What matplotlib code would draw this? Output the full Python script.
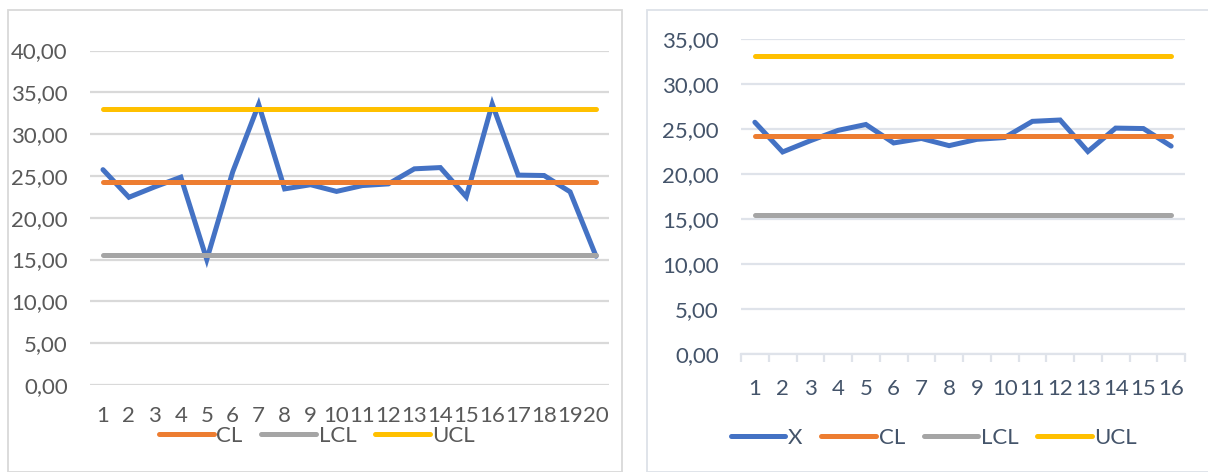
"""Two X control charts side by side: all samples, and with the out-of-limit samples dropped."""
import matplotlib
matplotlib.use("Agg")
import matplotlib.pyplot as plt
from matplotlib.lines import Line2D
from matplotlib.patches import Rectangle
from matplotlib.ticker import FuncFormatter, MultipleLocator

plt.rcParams['font.family'] = ['Lato', 'DejaVu Sans']

# sample means, all 20 subgroups
samples_all = list(range(1, 21))
x_all = [25.75, 22.45, 23.7, 24.85, 15.0, 25.5, 33.55, 23.45, 23.95, 23.15,
         23.85, 24.05, 25.85, 26.0, 22.5, 33.6, 25.1, 25.05, 23.1, 15.4]
cl_all, lcl_all, ucl_all = 24.27, 15.5, 33.0

# after removing subgroups 5, 7, 16 and 20
samples_red = list(range(1, 17))
x_red = [25.75, 22.45, 23.7, 24.85, 25.5, 23.45, 23.95, 23.15,
         23.85, 24.05, 25.85, 26.0, 22.5, 25.1, 25.05, 23.1]
cl_red, lcl_red, ucl_red = 24.25, 15.4, 33.1

BLUE = '#4472C4'
ORANGE = '#ED7D31'
GRAY = '#A5A5A5'
YELLOW = '#FFC000'
LW = 3.6
FS = 16

W, H = 1208, 472
fig = plt.figure(figsize=(W / 100, H / 100), dpi=100)


def px(x0, y0, x1, y1):
    # pixel box (top-left origin) -> figure fraction rect
    return [x0 / W, 1 - y1 / H, (x1 - x0) / W, (y1 - y0) / H]


def comma_fmt(v, pos):
    return ('%.2f' % v).replace('.', ',')


def draw_chart(ax, cats, xs, cl, lcl, ucl, ymax, grid_c, text_c):
    n = len(cats)
    ax.plot(cats, xs, color=BLUE, lw=LW, solid_capstyle='round',
            solid_joinstyle='miter', zorder=3)
    for val, c in ((cl, ORANGE), (lcl, GRAY), (ucl, YELLOW)):
        ax.plot(cats, [val] * n, color=c, lw=LW, solid_capstyle='round',
                zorder=4)
    ax.set_xlim(0.5, n + 0.5)
    ax.set_ylim(0, ymax)
    ax.yaxis.set_major_locator(MultipleLocator(5))
    ax.yaxis.set_major_formatter(FuncFormatter(comma_fmt))
    ax.set_xticks(cats)
    ax.grid(axis='y', color=grid_c, lw=1.6, zorder=0)
    ax.set_axisbelow(True)
    for s in ax.spines.values():
        s.set_visible(False)
    ax.tick_params(axis='y', length=0, pad=16, labelsize=FS,
                   labelcolor=text_c)
    ax.tick_params(axis='x', length=0, pad=15, labelsize=FS,
                   labelcolor=text_c)


# panel frames
fig.add_artist(Rectangle((8 / W, 0), (622 - 8) / W, 1 - 10 / H,
                         transform=fig.transFigure, fill=False,
                         ec='#D9D9D9', lw=1.3))
fig.add_artist(Rectangle((647 / W, 0), (1220 - 647) / W, 1 - 10 / H,
                         transform=fig.transFigure, fill=False,
                         ec='#DDE2E8', lw=1.3))

# left chart
ax1 = fig.add_axes(px(90, 50.5, 609, 385))
draw_chart(ax1, samples_all, x_all, cl_all, lcl_all, ucl_all, 40,
           '#D9D9D9', '#595959')
h1 = [Line2D([], [], color=c, lw=LW, solid_capstyle='round')
      for c in (ORANGE, GRAY, YELLOW)]
fig.legend(h1, ['CL', 'LCL', 'UCL'], loc='center',
           bbox_to_anchor=(317 / W, 1 - 436 / H), ncol=3, frameon=False,
           fontsize=FS, handlelength=2.45, handletextpad=0.12,
           columnspacing=0.85, labelcolor='#595959')

# right chart
ax2 = fig.add_axes(px(741, 39, 1185, 354))
draw_chart(ax2, samples_red, x_red, cl_red, lcl_red, ucl_red, 35,
           '#DFE3EA', '#44546A')
ax2.spines['bottom'].set_visible(True)
ax2.spines['bottom'].set_color('#DFE3EA')
ax2.spines['bottom'].set_linewidth(1.6)
ax2.set_xticks([i + 0.5 for i in range(0, 17)], minor=True)
ax2.tick_params(axis='x', which='minor', length=6, width=1.6,
                color='#DFE3EA', direction='out')
ax2.tick_params(axis='x', which='major', pad=18)
h2 = [Line2D([], [], color=c, lw=LW, solid_capstyle='round')
      for c in (BLUE, ORANGE, GRAY, YELLOW)]
fig.legend(h2, ['X', 'CL', 'LCL', 'UCL'], loc='center',
           bbox_to_anchor=(934 / W, 1 - 438 / H), ncol=4, frameon=False,
           fontsize=FS, handlelength=2.45, handletextpad=0.12,
           columnspacing=0.85, labelcolor='#44546A')

fig.savefig('out.png', dpi=100, facecolor='white')
